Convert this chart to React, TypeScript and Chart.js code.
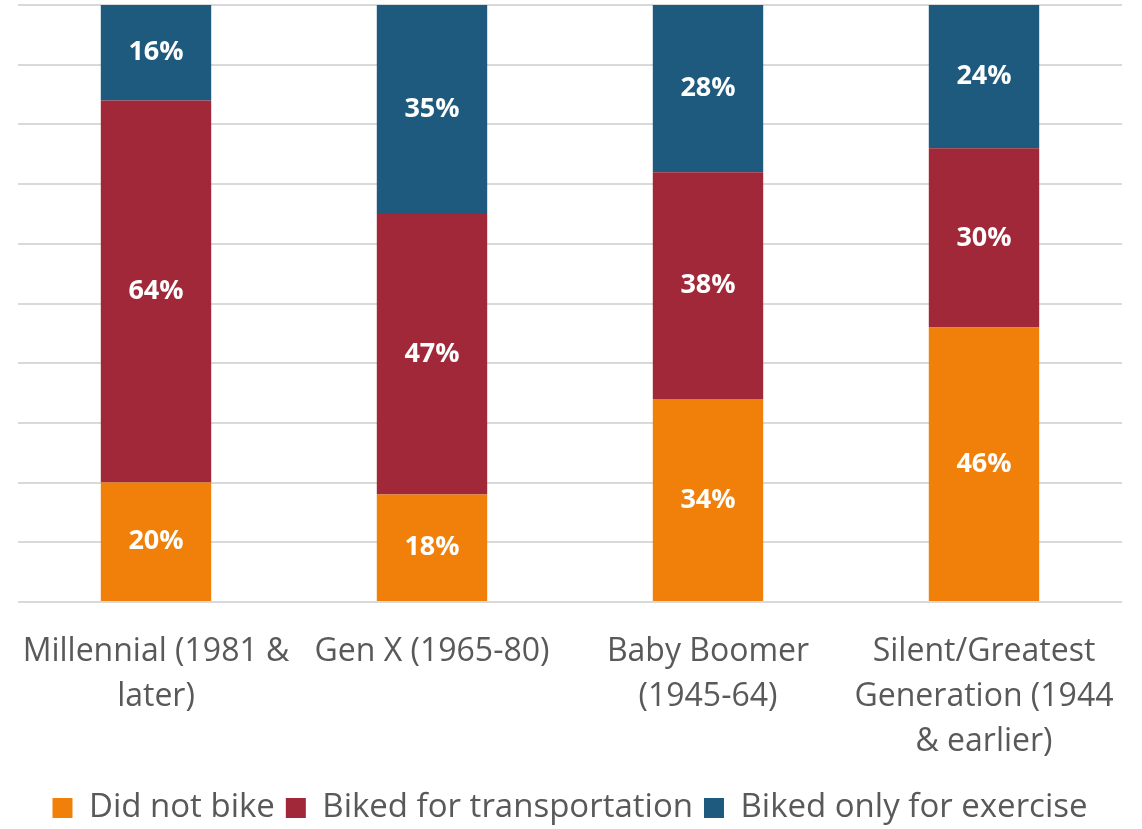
import React, { useEffect, useRef } from "react";
import { Chart, registerables } from "chart.js";

Chart.register(...registerables);

const categories: (string | string[])[] = [
  ["Millennial (1981 &", "later)"],
  "Gen X (1965-80)",
  ["Baby Boomer", "(1945-64)"],
  ["Silent/Greatest", "Generation (1944", "& earlier)"],
];
const didNotBike = [20, 18, 34, 46];
const bikedTransport = [64, 47, 38, 30];
const bikedExercise = [16, 35, 28, 24];
const seriesNames = ["Did not bike", "Biked for transportation", "Biked only for exercise"];
const seriesColors = ["#F0800A", "#A02838", "#1E5A7D"];

const FONT = "'Open Sans', Lato, sans-serif";

const barLabels = {
  id: "barLabels",
  afterDatasetsDraw(chart: any) {
    const { ctx } = chart;
    ctx.save();
    ctx.fillStyle = "#FFFFFF";
    ctx.font = `bold 27px ${FONT}`;
    ctx.textAlign = "center";
    ctx.textBaseline = "middle";
    chart.data.datasets.forEach((ds: any, di: number) => {
      const meta = chart.getDatasetMeta(di);
      meta.data.forEach((el: any, i: number) => {
        const v = ds.data[i];
        const y = (el.y + el.base) / 2;
        ctx.fillText(`${v}%`, el.x, y);
      });
    });
    ctx.restore();
  },
};

export default function App() {
  const ref = useRef<HTMLCanvasElement>(null);
  useEffect(() => {
    if (!ref.current) return;
    const data = [didNotBike, bikedTransport, bikedExercise];
    const chart = new Chart(ref.current, {
      type: "bar",
      data: {
        labels: categories,
        datasets: data.map((d, i) => ({
          label: seriesNames[i],
          data: d,
          backgroundColor: seriesColors[i],
          borderWidth: 0,
          barPercentage: 0.4,
          categoryPercentage: 1,
        })),
      },
      options: {
        animation: false,
        responsive: false,
        maintainAspectRatio: false,
        layout: { padding: { top: 5, left: 18, right: 20, bottom: 0 } },
        scales: {
          x: {
            stacked: true,
            grid: { display: false, drawTicks: false },
            border: { display: false },
            ticks: {
              color: "#595959",
              font: { family: FONT, size: 32, lineHeight: "45px" },
              padding: 27.5,
              maxRotation: 0,
              autoSkip: false,
            },
            afterFit(scale: any) {
              scale.height = 178.5;
              scale.paddingLeft = 0;
              scale.paddingRight = 0;
            },
          },
          y: {
            stacked: true,
            min: 0,
            max: 100,
            ticks: { display: false, stepSize: 10 },
            grid: { color: "#D9D9D9", lineWidth: 2, drawTicks: false },
            border: { display: false },
          },
        },
        plugins: {
          legend: {
            position: "bottom",
            maxHeight: 48.5,
            labels: {
              color: "#595959",
              font: { family: FONT, size: 33 },
              boxWidth: 20,
              boxHeight: 20,
              padding: 11,
            },
          },
          tooltip: { enabled: false },
        },
      },
      plugins: [barLabels],
    });
    return () => chart.destroy();
  }, []);
  return (
    <div style={{ position: "fixed", left: 0, top: 0, width: 1142, height: 829, background: "#fff" }}>
      <canvas ref={ref} width={1142} height={829} style={{ width: 1142, height: 829 }} />
    </div>
  );
}
